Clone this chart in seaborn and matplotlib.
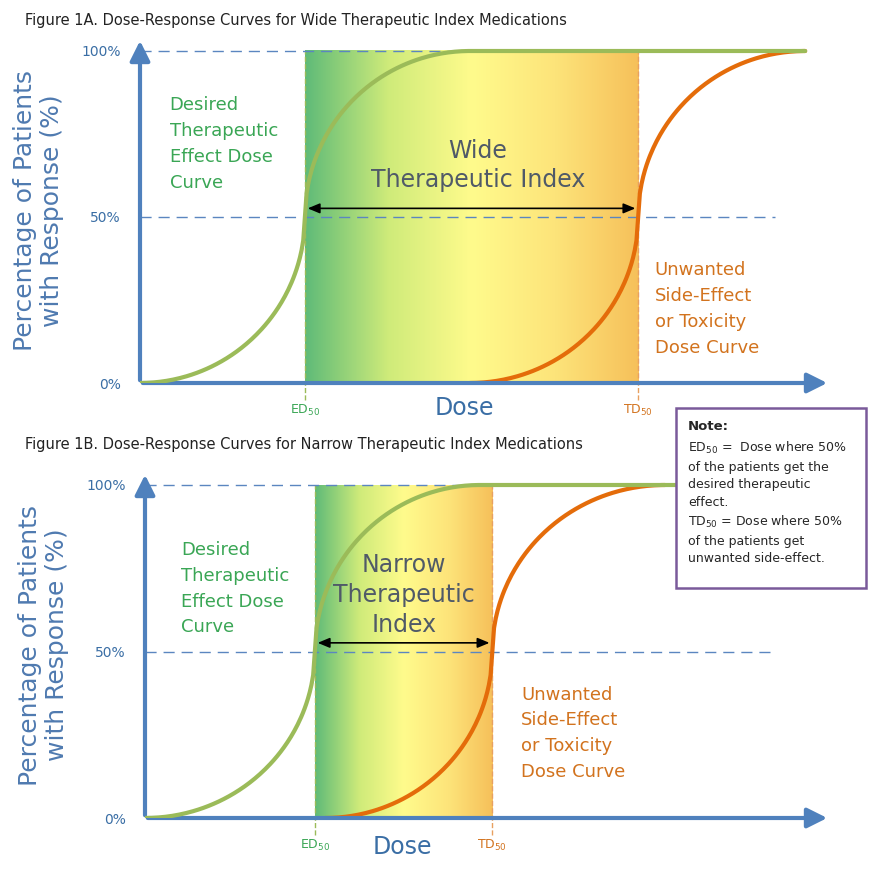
import numpy as np
import matplotlib
matplotlib.use("Agg")
import matplotlib.pyplot as plt
import seaborn as sns
import pandas as pd
from matplotlib.colors import LinearSegmentedColormap
from matplotlib.patches import Rectangle

sns.set_theme(style="white")
plt.rcParams['font.family'] = ['DejaVu Sans']

# panel parameters (dose units 0..100 along x axis)
ticks = [0, 50, 100]
tick_labels = ["0%", "50%", "100%"]
top_ed50, top_td50 = 23.9, 72.2
top_green = (0.0, 47.8)
top_orange = (47.8, 96.4)
bot_ed50, bot_td50 = 24.8, 50.7
bot_green = (0.0, 48.9)
bot_orange = (26.3, 75.9)

GREEN = "#9bbb59"
ORANGE = "#e46c0a"
BLUE = "#4f81bd"
TXTG = "#3aa655"
TXTO = "#d2731e"

def sigmoid_shape(x0, x1, xmid):
    t1 = np.linspace(0, 1, 100)
    xa = x0 + (xmid - x0) * t1
    ya = 50 * (1 - np.sqrt(1 - t1 ** 2))
    xb = xmid + (x1 - xmid) * t1
    yb = 50 + 50 * np.sqrt(1 - (1 - t1) ** 2)
    return np.r_[xa, xb], np.r_[ya, yb]

cmap = LinearSegmentedColormap.from_list("g", ["#5fbb78", "#cfeb7a", "#fffb8c", "#fde47a", "#f6c05a"])

fig = plt.figure(figsize=(8.8, 8.76), dpi=100)
W, H = 880, 876

def panel(origin, xend, ytop100, ytop_arrow, ed, td, green, orange, flat_end, texts):
    ox, oy = origin
    ymax = (oy - ytop_arrow) / (oy - ytop100) * 100
    ax = fig.add_axes([ox / W, (H - oy) / H, (xend - ox) / W, (oy - ytop_arrow) / H])
    ax.set_xlim(0, 100); ax.set_ylim(0, ymax)
    for s in ax.spines.values():
        s.set_visible(False)
    grad = np.linspace(0, 1, 256).reshape(1, -1)
    ax.imshow(grad, extent=[ed, td, 0, 100], aspect="auto", cmap=cmap, zorder=0)
    ax.plot([ed, ed], [-5, 100], color=GREEN, ls="--", lw=1, clip_on=False)
    ax.plot([td, td], [-5, 100], color="#e8a060", ls="--", lw=1, clip_on=False)
    for yv in (50, 100):
        ax.plot([0, 92], [yv, yv], ls=(0, (8, 5)), color="#5b86c0", lw=1)
    gx, gy = sigmoid_shape(green[0], green[1], ed)
    gx = np.r_[gx, flat_end]; gy = np.r_[gy, 100]
    ox_, oy_ = sigmoid_shape(orange[0], orange[1], td)
    sns.lineplot(x=ox_, y=oy_, ax=ax, color=ORANGE, lw=3, sort=False, zorder=3)
    sns.lineplot(x=gx, y=gy, ax=ax, color=GREEN, lw=3, sort=False, zorder=4)
    ax.annotate("", xy=(100, 0), xytext=(0, 0), annotation_clip=False,
                arrowprops=dict(arrowstyle="-|>,head_width=0.5,head_length=1", color=BLUE, lw=3))
    ax.annotate("", xy=(0, ymax), xytext=(0, 0), annotation_clip=False,
                arrowprops=dict(arrowstyle="-|>,head_width=0.5,head_length=1", color=BLUE, lw=3))
    ax.annotate("", xy=(td, 52.6), xytext=(ed, 52.6),
                arrowprops=dict(arrowstyle="<|-|>,head_width=0.25,head_length=0.6", color="black", lw=1.2), zorder=5)
    ax.set_xticks([]); ax.set_yticks(ticks)
    ax.set_yticklabels(tick_labels, color="#3a6ea5", fontsize=10)
    ax.tick_params(axis="y", length=0, pad=14)
    ax.set_ylabel("Percentage of Patients\nwith Response (%)", color="#4f7ab0", fontsize=18, labelpad=12)
    ax.text(ed, -6, "ED$_{50}$", color=TXTG, ha="center", va="top", fontsize=9)
    ax.text(td, -6, "TD$_{50}$", color=TXTO, ha="center", va="top", fontsize=9)
    (dx, dy), (cx, cy, ctext), (lx, ly), (rx, ry) = texts
    ax.text(dx, dy, "Dose", color="#3a6ea5", fontsize=17, ha="center", va="top")
    ax.text(cx, cy, ctext, color="#505a68", fontsize=17, ha="center", va="center", linespacing=1.3)
    ax.text(lx, ly, "Desired\nTherapeutic\nEffect Dose\nCurve", color=TXTG, fontsize=13,
            ha="left", va="center", linespacing=1.55)
    ax.text(rx, ry, "Unwanted\nSide-Effect\nor Toxicity\nDose Curve", color=TXTO, fontsize=13,
            ha="left", va="center", linespacing=1.55)
    return ax

panel((140, 383), 830, 51, 38, top_ed50, top_td50, top_green, top_orange, 96.4,
      [(47.0, -4), (49.0, 65.5, "Wide\nTherapeutic Index"), (4.3, 72.0), (74.6, 22.3)])
panel((145, 818), 830, 485, 472, bot_ed50, bot_td50, bot_green, bot_orange, 100,
      [(37.5, -5), (37.8, 67.0, "Narrow\nTherapeutic\nIndex"), (5.3, 68.8), (54.9, 25.5)])

fig.text(25 / W, 1 - 21 / H, "Figure 1A. Dose-Response Curves for Wide Therapeutic Index Medications",
         fontsize=10.5, va="center", color="#222222")
fig.text(25 / W, 1 - 445 / H, "Figure 1B. Dose-Response Curves for Narrow Therapeutic Index Medications",
         fontsize=10.5, va="center", color="#222222")

fig.patches.append(Rectangle((676 / W, 1 - 588 / H), 190 / W, 180 / H, transform=fig.transFigure,
                             facecolor="white", edgecolor="#7a5a9a", lw=1.8, zorder=10))
fig.text(688 / W, 1 - 420 / H, "Note:", fontsize=9.5, fontweight="bold", va="top", zorder=11)
fig.text(688 / W, 1 - 440 / H,
         "ED$_{50}$ =  Dose where 50%\nof the patients get the\ndesired therapeutic\neffect.\n"
         "TD$_{50}$ = Dose where 50%\nof the patients get\nunwanted side-effect.",
         fontsize=9, va="top", linespacing=1.45, zorder=11)

fig.savefig("out.png", dpi=100)
